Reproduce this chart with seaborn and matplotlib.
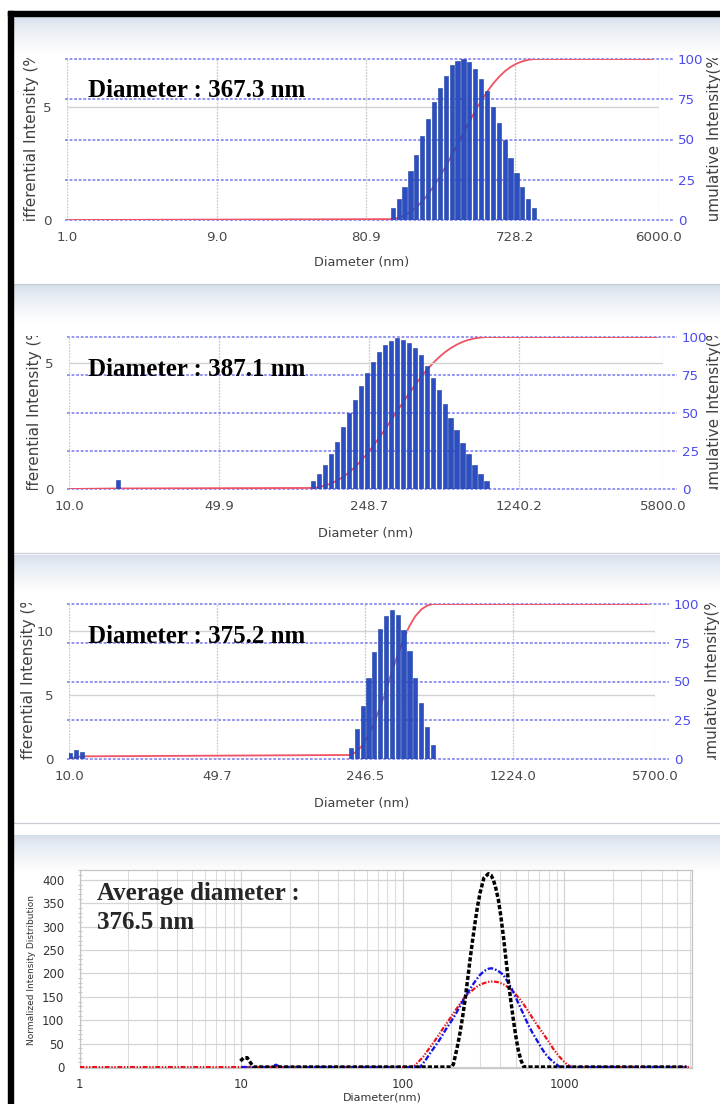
import numpy as np
import matplotlib
matplotlib.use("Agg")
import matplotlib.pyplot as plt
import seaborn as sns
from matplotlib.patches import Rectangle
from matplotlib.transforms import Bbox, TransformedBbox
from matplotlib.ticker import FixedLocator, NullLocator, MultipleLocator, LogLocator, NullFormatter

sns.set_style("white")
plt.rcParams["font.family"] = ["DejaVu Sans"]
plt.rcParams["lines.scale_dashes"] = False

# ---------------- Sample 1 (size range 1.0 - 6000 nm) ----------------
s1_diam = [120.0, 130.9, 142.7, 155.6, 169.6, 185.0, 201.7, 219.9, 239.8, 261.5,
           285.2, 311.0, 339.0, 369.7, 403.0, 439.6, 479.3, 522.6, 569.9, 621.4,
           677.6, 738.8, 805.6, 878.5, 957.9]
s1_int = [0.55, 0.94, 1.46, 2.17, 2.88, 3.71, 4.45, 5.21, 5.85, 6.39,
          6.84, 7.03, 7.10, 6.98, 6.66, 6.25, 5.70, 5.01, 4.27, 3.56,
          2.75, 2.09, 1.46, 0.94, 0.52]
s1_ticks = [1.0, 9.0, 80.9, 728.2, 6000.0]
s1_ticklabels = ["1.0", "9.0", "80.9", "728.2", "6000.0"]
s1_range = (1.0, 5500.0)
s1_bin = 1.0904
s1_top = 7.12
s1_note = "Diameter : 367.3 nm"

# ---------------- Sample 2 (size range 10.0 - 5800 nm) ----------------
s2_diam = [16.9,
           136.5, 145.5, 155.2, 165.5, 176.4, 188.1, 200.6, 213.8, 228.0, 243.1,
           259.2, 276.3, 294.6, 314.1, 334.9, 357.1, 380.7, 405.9, 432.8, 461.4,
           492.0, 524.5, 559.3, 596.3, 635.8, 677.9, 722.7, 770.6, 821.6, 876.0]
s2_int = [0.36,
          0.33, 0.59, 0.95, 1.38, 1.87, 2.44, 3.01, 3.55, 4.10, 4.59,
          5.05, 5.42, 5.71, 5.88, 6.00, 5.92, 5.79, 5.59, 5.32, 4.87,
          4.39, 3.91, 3.37, 2.83, 2.33, 1.84, 1.37, 0.95, 0.59, 0.33]
s2_ticks = [10.0, 49.9, 248.7, 1240.2, 5800.0]
s2_ticklabels = ["10.0", "49.9", "248.7", "1240.2", "5800.0"]
s2_range = (10.0, 5450.0)
s2_bin = 1.0662
s2_top = 6.03
s2_note = "Diameter : 387.1 nm"

# ---------------- Sample 3 (size range 10.0 - 5700 nm) ----------------
s3_diam = [10.1, 10.8, 11.5,
           212.0, 225.8, 240.6, 256.3, 273.0, 290.9, 309.9, 330.1, 351.7, 374.6,
           399.1, 425.2, 452.9, 482.5, 514.0]
s3_int = [0.45, 0.70, 0.58,
          0.88, 2.35, 4.14, 6.35, 8.32, 10.13, 11.19, 11.63, 11.24, 10.07,
          8.43, 6.35, 4.34, 2.53, 1.09]
s3_ticks = [10.0, 49.7, 246.5, 1224.0, 5700.0]
s3_ticklabels = ["10.0", "49.7", "246.5", "1224.0", "5700.0"]
s3_range = (10.0, 5300.0)
s3_bin = 1.0653
s3_top = 12.1
s3_note = "Diameter : 375.2 nm"

# ---------------- Normalised overlay of the three runs ----------------
red_diam = [1.0, 116, 125, 134, 144, 155, 166, 178, 192, 206, 221, 237, 255, 274, 294,
            316, 339, 364, 391, 420, 450, 484, 519, 558, 599, 643, 691, 742, 797,
            855, 918, 986, 1045, 1110, 6000]
red_val = [0, 0, 11, 22, 37, 52, 67, 83, 99, 115, 130, 145, 157, 166, 174,
           179, 182, 183, 181, 177, 170, 161, 149, 135, 119, 102, 86, 71, 55,
           39, 25, 13, 5, 0, 0]
blue_diam = [10.0, 15.5, 16.4, 17.5, 128, 138, 147.5, 156, 166, 176, 187, 199, 211, 224,
             237, 252, 267, 283, 301, 319, 339, 355, 372, 395, 420, 445, 472, 500,
             532, 565, 599, 636, 675, 716, 760, 806, 855, 900, 940, 5800]
blue_val = [0, 0, 5, 0, 0, 14, 29, 41, 54, 68, 83, 97, 111, 127,
            143, 158, 172, 185, 197, 205, 210, 211, 209, 204, 197, 183, 168, 149,
            129, 109, 90, 73, 58, 43, 29, 19, 11, 5, 0, 0]
black_diam = [9.9, 10.4, 10.9, 11.4, 11.9, 200, 206, 218, 226, 235, 243, 252, 261, 270,
              280, 290, 301, 318, 339, 352, 364, 377, 391, 405, 420, 435, 450, 467,
              484, 500, 519, 540, 563, 5700]
black_val = [13, 20, 20, 10, 0, 0, 6, 44, 72, 108, 143, 186, 229, 268,
             307, 342, 372, 404, 413, 410, 400, 382, 357, 322, 279, 232, 186, 141,
             101, 68, 36, 14, 0, 0]
avg_ticks = [1, 10, 100, 1000]
avg_ticklabels = ["1", "10", "100", "1000"]
avg_note = ["Average diameter :", "376.5 nm"]

W, H = 720, 1104
fig = plt.figure(figsize=(W / 100, H / 100), dpi=100)
fig.patch.set_facecolor("white")


def fig_box(x0, y0, x1, y1):
    return [x0 / W, 1 - y1 / H, (x1 - x0) / W, (y1 - y0) / H]


def fxy(x, y):
    return x / W, 1 - y / H


# background layer: window gradients, separators and black frame
bg = fig.add_axes([0, 0, 1, 1])
bg.set_zorder(-5)
top_col = np.array([0.835, 0.870, 0.922])
ramp = np.linspace(0, 1, 80) ** 0.7
grad = (top_col[None, :] + (1 - top_col[None, :]) * ramp[:, None])[:, None, :]
panels = [(12, 16, 720, 283), (12, 285, 720, 552), (12, 555, 720, 822), (12, 835, 720, 1104)]
for (x0, y0, x1, y1) in panels:
    bg.imshow(grad, extent=(x0, x1, y0 + 38, y0), aspect="auto", interpolation="bilinear", zorder=0)
for (x0, y0, x1, y1) in panels[:3]:
    bg.plot([x0, x1], [y1 + 0.5, y1 + 0.5], color="#C9CED6", lw=0.9, zorder=1)
bg.add_patch(Rectangle((8, 11), 712, 5, color="black", zorder=2))
bg.add_patch(Rectangle((8, 11), 4.5, H, color="black", zorder=2))
bg.set_xlim(0, W)
bg.set_ylim(H, 0)
bg.axis("off")


def clipped_vlabel(x, y_top, y_bot, text, color, size):
    t = fig.text(*fxy(x, (y_top + y_bot) / 2), text, rotation=90, ha="center", va="center",
                 fontsize=size, color=color, zorder=4)
    cb = TransformedBbox(Bbox.from_extents(0, 1 - (y_bot + 1) / H, 1, 1 - (y_top - 1) / H),
                         fig.transFigure)
    t.set_clip_box(cb)
    t.set_clip_on(True)


def size_panel(box, ticks, ticklabels, diam, inten, top, left_ticks, cum_range, bin_ratio,
               note, note_xy, xlab_xy, ylab_x, ylab2_x):
    x0, y0, x1, y1 = box
    ax = fig.add_axes(fig_box(*box))
    ax.set_xscale("log")
    ax2 = ax.twinx()
    ax.set_zorder(ax2.get_zorder() + 1)
    ax.patch.set_visible(False)

    d = np.asarray(diam, float)
    v = np.asarray(inten, float)

    for t in [0, 25, 50, 75, 100]:
        ax2.axhline(t, xmin=-0.004, xmax=1 + 14 / (x1 - x0), color="#7676F0", lw=1.1,
                    ls=(0, (2.0, 1.3)), clip_on=False, zorder=1)
    for xt in ticks:
        ax2.axvline(xt, color="#C4C4C4", lw=0.9, ls=(0, (1.2, 1.0)), zorder=0.5)
    for t in left_ticks[1:]:
        ax.axhline(t, color="#D2D2D2", lw=1.0, zorder=0.5)

    # cumulative intensity curve
    cum = np.cumsum(v) / v.sum() * 100
    cx = np.r_[cum_range[0], d, cum_range[1]]
    cy = np.r_[0.0, cum, 100.0]
    sns.lineplot(x=cx, y=cy, ax=ax2, color="#EF5264", lw=1.3, zorder=2)

    # differential intensity histogram (log-spaced bins)
    half = bin_ratio ** 0.36
    ax.bar(d / half, v, width=d * half - d / half, align="edge", color="#2B4FC3",
           edgecolor="#1E3C9E", linewidth=0.4, zorder=3)

    ax.set_ylim(0, top)
    ax2.set_ylim(0, 100)
    ax.set_xlim(ticks[0], ticks[-1])
    ax.set_xticks(ticks, labels=ticklabels)
    ax.xaxis.set_minor_locator(NullLocator())
    ax.set_yticks(left_ticks)
    ax2.set_yticks([0, 25, 50, 75, 100])
    ax.tick_params(axis="x", length=0, pad=8, labelsize=9.6, labelcolor="#4A4A4A")
    ax.tick_params(axis="y", length=0, pad=11, labelsize=9.6, labelcolor="#4A4A4A")
    ax2.tick_params(axis="y", length=0, pad=13.5, labelsize=9.6, labelcolor="#4B4BF0")
    for a in (ax, ax2):
        a.set_xlabel("")
        a.set_ylabel("")
        for s in a.spines.values():
            s.set_visible(False)

    fig.text(*fxy(*note_xy), note, fontsize=18, fontweight="bold", family="Liberation Serif",
             va="baseline", ha="left", color="black", zorder=5)
    fig.text(*fxy(*xlab_xy), "Diameter (nm)", ha="center", va="center", fontsize=9.3,
             color="#404040")
    clipped_vlabel(ylab_x, y0, y1, "Differential Intensity (%)", "#404040", 11)
    clipped_vlabel(ylab2_x, y0, y1, "Cumulative Intensity(%)", "#404040", 11)


size_panel((67, 59, 659, 220), s1_ticks, s1_ticklabels, s1_diam, s1_int, s1_top, [0, 5],
           s1_range, s1_bin, s1_note, (88, 97), (362, 262), 32, 714)
size_panel((69, 337, 663, 489), s2_ticks, s2_ticklabels, s2_diam, s2_int, s2_top, [0, 5],
           s2_range, s2_bin, s2_note, (88, 376), (366, 533), 35, 714)
size_panel((69, 604, 655, 759), s3_ticks, s3_ticklabels, s3_diam, s3_int, s3_top, [0, 5, 10],
           s3_range, s3_bin, s3_note, (88, 643), (362, 803), 29, 712)

# ---------------- overlay panel ----------------
ax = fig.add_axes(fig_box(79.5, 870, 692, 1068))
ax.set_xscale("log")
ax.grid(which="major", color="#D4D4D4", lw=0.9)
ax.grid(which="minor", axis="x", color="#DCDCDC", lw=0.8)
sns.lineplot(x=red_diam, y=red_val, ax=ax, color="#E8141C", lw=1.6,
             linestyle=(0, (3.5, 1.2, 1.0, 1.2, 1.0, 1.2)), zorder=3)
sns.lineplot(x=blue_diam, y=blue_val, ax=ax, color="#1414E6", lw=1.7,
             linestyle=(0, (4.0, 1.4, 1.2, 1.4)), zorder=4)
sns.lineplot(x=black_diam, y=black_val, ax=ax, color="black", lw=2.5,
             linestyle=(0, (3.0, 1.5)), zorder=5)
ax.set_xlim(1, 6170)
ax.set_ylim(-2, 421)
ax.xaxis.set_major_locator(FixedLocator(avg_ticks))
ax.set_xticklabels(avg_ticklabels)
ax.xaxis.set_minor_locator(LogLocator(base=10, subs=np.arange(2, 10)))
ax.xaxis.set_minor_formatter(NullFormatter())
ax.yaxis.set_major_locator(MultipleLocator(50))
ax.yaxis.set_minor_locator(MultipleLocator(10))
ax.tick_params(axis="x", which="major", length=0, pad=7, labelsize=8.5, labelcolor="#333333")
ax.tick_params(axis="x", which="minor", length=0)
ax.tick_params(axis="y", which="major", length=4, direction="inout", color="#AAAAAA",
               pad=9, labelsize=8.5, labelcolor="#333333")
ax.tick_params(axis="y", which="minor", length=3, direction="inout", color="#BBBBBB", left=True)
ax.set_xlabel("")
ax.set_ylabel("")
for s in ax.spines.values():
    s.set_color("#C4C4C4")
    s.set_linewidth(0.9)

fig.text(*fxy(97, 900), avg_note[0], fontsize=18, fontweight="bold", family="Liberation Serif",
         va="baseline", ha="left", zorder=5)
fig.text(*fxy(97, 929), avg_note[1], fontsize=18, fontweight="bold", family="Liberation Serif",
         va="baseline", ha="left", zorder=5)
fig.text(*fxy(382, 1097), "Diameter(nm)", ha="center", va="center", fontsize=8, color="#333333")
fig.text(*fxy(32, 970), "Normalized Intensity Distribution", rotation=90, ha="center", va="center",
         fontsize=6.5, color="#333333")

fig.savefig("out.png", dpi=100, facecolor="white")
